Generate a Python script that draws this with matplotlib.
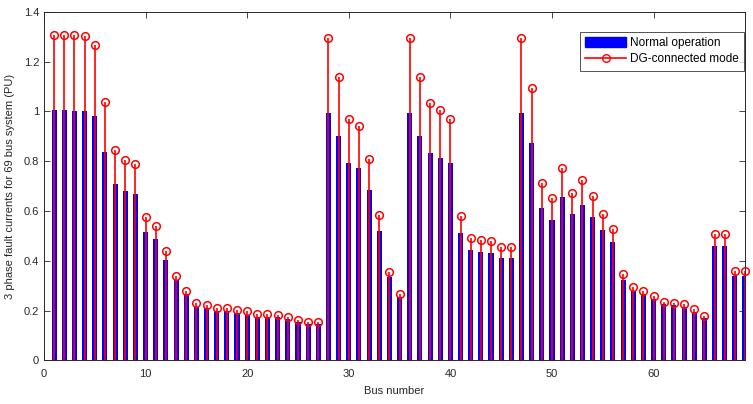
import numpy as np
import matplotlib
matplotlib.use("Agg")
import matplotlib.pyplot as plt
from matplotlib.lines import Line2D
from matplotlib.patches import Patch

# =================== DATA ===================
bus = np.arange(1, 70)

normal_op = [
    1.005, 1.005, 1.003, 1.000, 0.980, 0.836, 0.710, 0.682, 0.670, 0.516,
    0.489, 0.405, 0.321, 0.265, 0.216, 0.210, 0.198, 0.199, 0.190, 0.184,
    0.175, 0.175, 0.173, 0.165, 0.153, 0.145, 0.145, 0.994, 0.901, 0.791,
    0.772, 0.684, 0.519, 0.336, 0.253, 0.994, 0.901, 0.831, 0.814, 0.791,
    0.510, 0.443, 0.434, 0.432, 0.412, 0.412, 0.994, 0.871, 0.610, 0.563,
    0.655, 0.588, 0.622, 0.577, 0.522, 0.475, 0.324, 0.278, 0.265, 0.246,
    0.225, 0.222, 0.215, 0.193, 0.169, 0.459, 0.459, 0.340, 0.340,
]

dg_mode = [
    1.305, 1.305, 1.305, 1.304, 1.268, 1.038, 0.846, 0.806, 0.788, 0.576,
    0.541, 0.438, 0.338, 0.278, 0.229, 0.223, 0.210, 0.211, 0.203, 0.198,
    0.186, 0.187, 0.184, 0.175, 0.163, 0.154, 0.155, 1.293, 1.139, 0.970,
    0.941, 0.810, 0.582, 0.356, 0.266, 1.293, 1.139, 1.032, 1.005, 0.968,
    0.580, 0.490, 0.483, 0.478, 0.455, 0.455, 1.293, 1.092, 0.712, 0.651,
    0.771, 0.673, 0.724, 0.660, 0.586, 0.527, 0.347, 0.294, 0.278, 0.258,
    0.235, 0.231, 0.227, 0.205, 0.178, 0.506, 0.506, 0.359, 0.359,
]

# =================== PLOT ===================
plt.rcParams["font.family"] = ["Liberation Sans", "DejaVu Sans"]

fig = plt.figure(figsize=(7.53, 4.04), dpi=100)
ax = fig.add_axes([0.0584, 0.108, 0.931, 0.863])

ax.bar(bus, normal_op, width=0.5, color="#0000ff", zorder=2)
ax.vlines(bus, 0, dg_mode, color="#ff0000", linewidth=1.2, zorder=3)
ax.plot(bus, dg_mode, linestyle="none", marker="o", markersize=5.5,
        markerfacecolor="none", markeredgecolor="#ff0000",
        markeredgewidth=1.1, zorder=4, clip_on=False)

ax.set_xlim(0, 69)
ax.set_ylim(0, 1.4)
ax.set_xticks(np.arange(0, 61, 10))
ax.set_yticks(np.arange(0, 1.41, 0.2))
ax.set_yticklabels(["0", "0.2", "0.4", "0.6", "0.8", "1", "1.2", "1.4"])

ax.tick_params(direction="in", top=True, right=True, labelsize=8,
               colors="#262626", length=4, width=0.6)
ax.tick_params(axis="x", pad=6)
for s in ax.spines.values():
    s.set_color("#262626")
    s.set_linewidth(0.7)

ax.set_xlabel("Bus number", fontsize=8, color="#262626", labelpad=5)
ax.set_ylabel("3 phase fault currents for 69 bus system (PU)", fontsize=8,
              color="#262626", labelpad=6)

handles = [
    Patch(facecolor="#0000ff", edgecolor="#0000ff"),
    Line2D([0], [0], color="#ff0000", linewidth=1.2, marker="o",
           markersize=5.5, markerfacecolor="none", markevery=[1]),
]
leg = ax.legend(handles, ["Normal operation", "DG-connected mode"],
                loc="upper right", bbox_to_anchor=(0.9986, 0.942),
                borderaxespad=0, fontsize=8.5, frameon=True, fancybox=False,
                handlelength=3.5, handleheight=0.9, borderpad=0.45,
                labelspacing=0.35, handletextpad=0.3)
leg.get_frame().set_edgecolor("#262626")
leg.get_frame().set_linewidth(0.7)

fig.savefig("out.png", dpi=100)
plt.close(fig)
